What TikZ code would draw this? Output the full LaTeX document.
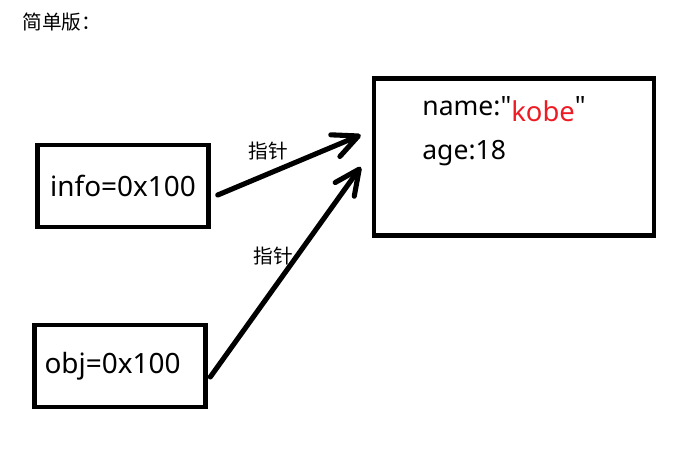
\documentclass[tikz,border=0pt]{standalone}
\usepackage{fontspec}
\setmainfont{Noto Sans}[Ligatures=TeXOff]
\newfontfamily\cjk{Noto Sans CJK SC}
\usetikzlibrary{arrows.meta,positioning}
\definecolor{kobered}{RGB}{237,28,36}
\tikzset{
    >={Straight Barb[length=0.5cm,width=0.47cm,round]},
    varbox/.style={
           rectangle,
           draw=black, line width=2.6pt,
           minimum width=3.42cm,
           minimum height=1.64cm,
           inner sep=0pt,
           font=\fontsize{15.9}{19}\selectfont,
           text centered},
    objbox/.style={
           rectangle,
           draw=black, line width=2.6pt,
           minimum width=5.6cm,
           minimum height=3.15cm,
           inner sep=0pt},
    field/.style={
           anchor=base west,
           inner sep=0pt,
           font=\fontsize{15.1}{18}\selectfont},
    tag/.style={
           inner sep=0pt,
           font=\cjk\fontsize{11.2}{13}\selectfont},
    pil/.style={
           ->,
           line width=2.9pt,
           line cap=round}
}

\begin{document}
\begin{tikzpicture}[x=0.02cm, y=-0.02cm]
        \useasboundingbox (0,0) rectangle (688,452);
        \node[tag, anchor=west] (title) at (22,22) {简单版：};

        \node[varbox] (info) at (123,186) {info=0x100};
        \node[varbox] (obj) at (120,366) {\hspace*{-0.3cm}obj=0x100};
        \node[objbox] (store) at (514,157) {};

        \node[field] (name) at (422,116) {name:"\raisebox{-3.4pt}{\fontsize{15.6}{18}\selectfont\color{kobered}kobe}"};
        \node[field] (age) at (422,160) {age:18};

        \draw[pil] ([shift={(7,9)}]info.east) -- ([shift={(-11,-22)}]store.west);
        \draw[pil] ([shift={(2.5,11)}]obj.east) -- ([shift={(-11,10)}]store.west);

        \node[tag] (ptr1) at (268,151) {指针};
        \node[tag] (ptr2) at (273,256) {指针};
\end{tikzpicture}
\end{document}
